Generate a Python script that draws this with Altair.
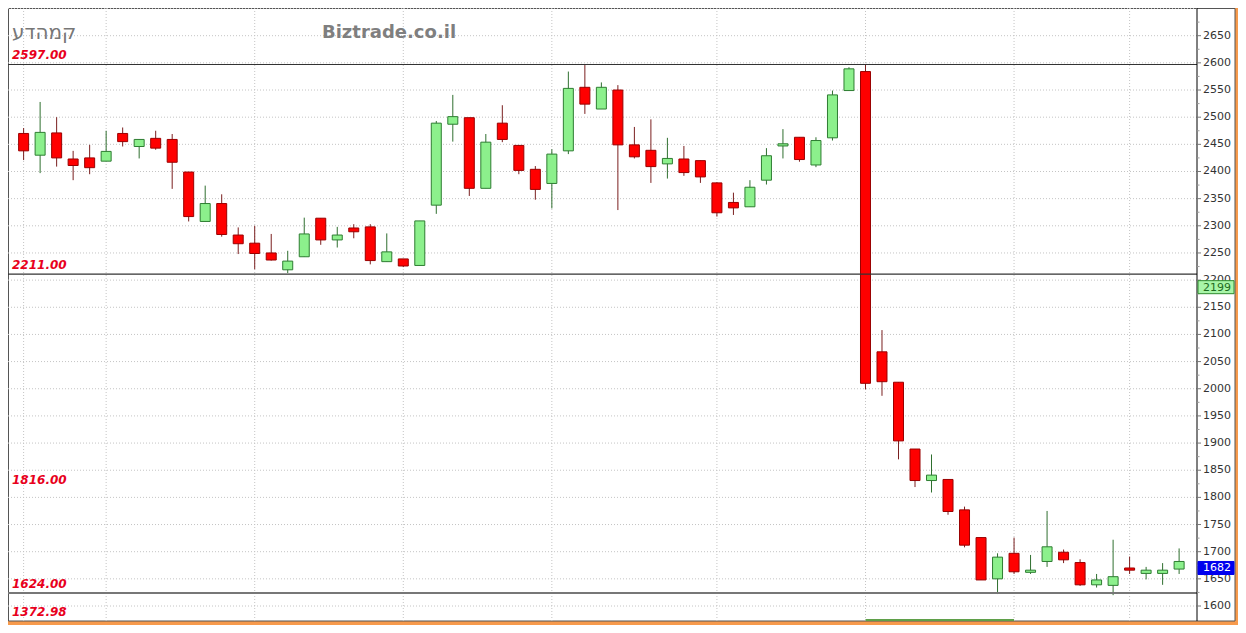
import altair as alt
import pandas as pd

# ---------------- data ----------------
opens = [2470, 2430, 2471, 2423, 2425, 2419, 2470, 2446, 2461, 2459,
         2399, 2308, 2341, 2283, 2268, 2250, 2219, 2243, 2314, 2274,
         2296, 2298, 2234, 2239, 2227, 2338, 2487, 2499, 2369, 2489,
         2448, 2404, 2378, 2438, 2555, 2515, 2550, 2449, 2439, 2414,
         2423, 2420, 2379, 2343, 2335, 2384, 2447, 2463, 2412, 2462,
         2549, 2584, 2068, 2012, 1889, 1831, 1833, 1777, 1726, 1650,
         1697, 1662, 1682, 1699, 1680, 1639, 1638, 1670, 1660, 1660,
         1668]
highs = [2480, 2528, 2500, 2438, 2449, 2475, 2481, 2459, 2475, 2469,
         2399, 2374, 2358, 2297, 2300, 2285, 2254, 2315, 2314, 2298,
         2303, 2303, 2286, 2239, 2309, 2493, 2541, 2499, 2469, 2522,
         2448, 2410, 2441, 2584, 2596, 2564, 2559, 2482, 2496, 2462,
         2447, 2420, 2380, 2361, 2384, 2443, 2478, 2463, 2463, 2549,
         2592, 2598, 2108, 2012, 1889, 1879, 1833, 1783, 1727, 1697,
         1726, 1694, 1775, 1704, 1686, 1659, 1722, 1691, 1672, 1679,
         1706]
lows = [2421, 2397, 2409, 2384, 2395, 2419, 2446, 2424, 2440, 2368,
        2308, 2308, 2280, 2248, 2220, 2236, 2213, 2243, 2265, 2260,
        2277, 2229, 2234, 2224, 2227, 2322, 2455, 2355, 2369, 2454,
        2395, 2348, 2332, 2432, 2506, 2515, 2329, 2424, 2379, 2387,
        2392, 2379, 2317, 2320, 2335, 2376, 2424, 2418, 2408, 2457,
        2549, 1999, 1987, 1870, 1819, 1809, 1768, 1708, 1648, 1622,
        1659, 1659, 1672, 1679, 1637, 1634, 1620, 1659, 1649, 1639,
        1659]
closes = [2438, 2472, 2425, 2411, 2407, 2437, 2455, 2459, 2443, 2417,
          2317, 2341, 2284, 2267, 2249, 2237, 2235, 2285, 2274, 2283,
          2289, 2236, 2252, 2226, 2309, 2489, 2501, 2369, 2454, 2459,
          2402, 2367, 2432, 2553, 2524, 2555, 2449, 2427, 2409, 2424,
          2398, 2390, 2324, 2333, 2371, 2429, 2451, 2422, 2457, 2541,
          2589, 2010, 2013, 1904, 1831, 1841, 1774, 1712, 1648, 1690,
          1663, 1666, 1709, 1685, 1639, 1648, 1654, 1666, 1666, 1666,
          1682]

level_lines = [2597.00, 2211.00, 1624.00]
level_widths = [1.2, 1.2, 2.0]
level_colors = ["#333333", "#333333", "#777777"]
level_labels = [2597.00, 2211.00, 1816.00, 1624.00, 1372.98]
axis_ticks = [1600, 1650, 1700, 1750, 1800, 1850, 1900, 1950, 2000, 2050, 2100,
              2150, 2200, 2250, 2300, 2350, 2400, 2450, 2500, 2550, 2600, 2650]
grid_values = axis_ticks + [2700]
minor_ticks = [v + 25 for v in axis_ticks]
vgrid_idx = [0, 5, 14, 23, 32, 42, 51, 60, 67]
bottom_band = [51, 60]
price_tags = [1682, 2199]
price_tag_fill = ["#0000EE", "#A8F5A8"]
price_tag_stroke = ["#0000EE", "#2E8B2E"]
price_tag_text = ["white", "#1E6B1E"]
title_he = "קמהדע"
watermark = "Biztrade.co.il"

# ---------------- tables ----------------
n = len(opens)
candles = pd.DataFrame({
    "i": list(range(n)),
    "open": opens, "high": highs, "low": lows, "close": closes,
})
candles["dir"] = ["up" if c >= o else "down" for o, c in zip(opens, closes)]

W, H = 1189, 613
ORANGE = "#F79A4C"
xscale = alt.Scale(domain=[-0.643, 70.78], nice=False, zero=False)
yscale = alt.Scale(domain=[1572.4, 2701], nice=False, zero=False, clamp=True)

def Y(field, **kw):
    return alt.Y(field, type="quantitative", scale=yscale, axis=None, **kw)

panel = alt.Chart(pd.DataFrame({"a": [0]})).mark_rect(
    fill="white", stroke="#555555", strokeWidth=1
).encode(x=alt.value(0.5), x2=alt.value(1227), y=alt.value(0.5), y2=alt.value(613))

hgrid = alt.Chart(pd.DataFrame({"v": grid_values})).mark_rule(
    color="#c4c4c4", strokeDash=[1, 2], strokeWidth=1
).encode(y=Y("v"))

vgrid = alt.Chart(pd.DataFrame({"i": vgrid_idx})).mark_rule(
    color="#c4c4c4", strokeDash=[1, 2], strokeWidth=1
).encode(x=alt.X("i:Q", scale=xscale, axis=None))

base = alt.Chart(candles)
wicks = base.mark_rule(strokeWidth=1).encode(
    x=alt.X("i:Q", scale=xscale, axis=None),
    y=Y("low"),
    y2="high:Q",
    color=alt.Color("dir:N", scale=alt.Scale(domain=["up", "down"],
                                             range=["#2F6F2F", "#7A1F1F"]), legend=None),
)
bodies = base.mark_bar(size=10, strokeWidth=1).encode(
    x=alt.X("i:Q", scale=xscale, axis=None),
    y=Y("open"),
    y2="close:Q",
    fill=alt.Fill("dir:N", scale=alt.Scale(domain=["up", "down"],
                                           range=["#8CF08C", "#FF0000"]), legend=None),
    stroke=alt.Stroke("dir:N", scale=alt.Scale(domain=["up", "down"],
                                               range=["#2E7D32", "#9A0000"]), legend=None),
)

levels = alt.Chart(pd.DataFrame({"v": level_lines, "w": level_widths, "c": level_colors})).mark_rule().encode(
    y=Y("v"),
    strokeWidth=alt.StrokeWidth("w:Q", scale=None, legend=None),
    color=alt.Color("c:N", scale=None, legend=None),
)

labels_df = pd.DataFrame({"v": level_labels, "t": [f"{v:.2f}" for v in level_labels]})
labels = alt.Chart(labels_df).mark_text(
    align="left", baseline="middle", dy=-9, font="DejaVu Sans",
    fontStyle="italic", fontWeight="bold", fontSize=12, color="#E8001C"
).encode(x=alt.value(4), y=Y("v"), text="t:N")

# right-hand price axis drawn by hand
axis_line = alt.Chart(pd.DataFrame({"a": [0]})).mark_rule(color="#000000", strokeWidth=1).encode(
    x=alt.value(W), y=alt.value(0), y2=alt.value(H))
major = alt.Chart(pd.DataFrame({"v": axis_ticks})).mark_rule(
    color="#777777", strokeWidth=1
).encode(y=Y("v"), x=alt.value(W), x2=alt.value(W + 4))
minor = alt.Chart(pd.DataFrame({"v": minor_ticks})).mark_rule(
    color="#999999", strokeWidth=1
).encode(y=Y("v"), x=alt.value(W), x2=alt.value(W + 2.5))
axis_labels = alt.Chart(pd.DataFrame({"v": axis_ticks, "t": [str(v) for v in axis_ticks]})).mark_text(
    align="left", baseline="middle", font="DejaVu Sans", fontSize=11, color="#333333"
).encode(x=alt.value(W + 6), y=Y("v"), text="t:N")

band = alt.Chart(pd.DataFrame({"a": [bottom_band[0]], "b": [bottom_band[1]]})).mark_rule(
    color="#5FA04A", strokeWidth=2
).encode(x=alt.X("a:Q", scale=xscale, axis=None), x2="b:Q", y=alt.value(612))

tags_df = pd.DataFrame({"v": price_tags, "lo": [p - 24 for p in price_tags],
                        "f": price_tag_fill, "s": price_tag_stroke, "tc": price_tag_text,
                        "t": [str(p) for p in price_tags]})
tag_boxes = alt.Chart(tags_df).mark_rect(strokeWidth=1).encode(
    x=alt.value(W + 1), x2=alt.value(1226), y=Y("v"), y2="lo:Q",
    fill=alt.Fill("f:N", scale=None, legend=None),
    stroke=alt.Stroke("s:N", scale=None, legend=None),
)
tag_text = alt.Chart(tags_df).mark_text(
    align="left", baseline="top", dy=1, font="DejaVu Sans", fontSize=11
).encode(x=alt.value(W + 6), y=Y("v"), text="t:N",
         color=alt.Color("tc:N", scale=None, legend=None))

wm = alt.Chart(pd.DataFrame({"t": [watermark]})).mark_text(
    align="center", baseline="middle", font="DejaVu Sans", fontWeight="bold",
    fontSize=18, color="#7F7F7F"
).encode(x=alt.value(381), y=alt.value(25), text="t:N")

he = alt.Chart(pd.DataFrame({"t": [title_he]})).mark_text(
    align="left", baseline="middle", font="DejaVu Sans", fontSize=20, color="#777777"
).encode(x=alt.value(4), y=alt.value(25), text="t:N")

chart = alt.layer(
    panel, hgrid, vgrid, wicks, bodies, levels, labels,
    axis_line, major, minor, axis_labels, band,
    tag_boxes, tag_text, wm, he
).properties(
    width=W, height=H,
    autosize=alt.AutoSizeParams(type="none"),
    padding={"left": 0, "top": 0, "right": 41, "bottom": 4},
    background=ORANGE,
).configure_view(stroke=None)

chart.save("out.html", embed_options={"renderer": "svg", "actions": False})
